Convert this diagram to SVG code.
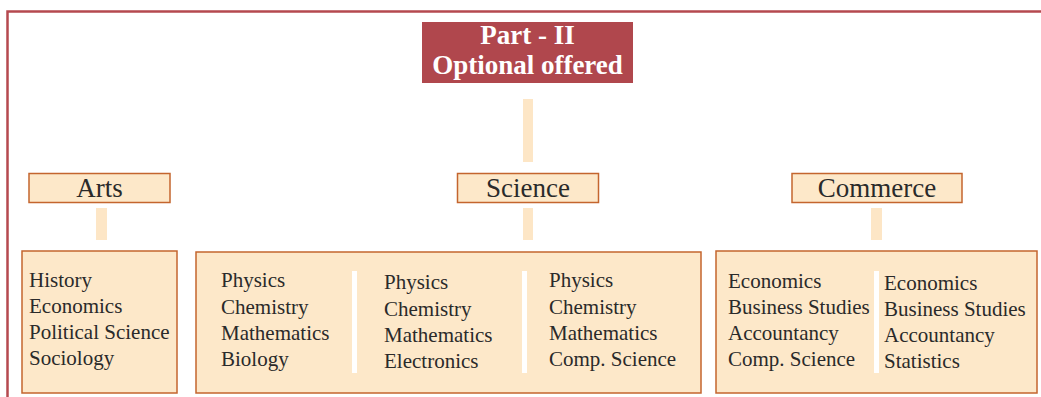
<svg xmlns="http://www.w3.org/2000/svg" width="1041" height="397" viewBox="0 0 1041 397">
<style>
.box{fill:#fde8c9;stroke:#c4652e;stroke-width:1.5}
.conn{fill:#fde6c6}
.sep{fill:#ffffff}
.hd{font-family:"Liberation Serif",serif;font-size:27px;fill:#2a2a2a;text-anchor:middle}
.li{font-family:"Liberation Serif",serif;font-size:21px;fill:#2a2a2a}
.tt{font-family:"Liberation Serif",serif;font-size:27px;font-weight:bold;fill:#ffffff;text-anchor:middle}
</style>
<rect width="1041" height="397" fill="#ffffff"/>
<path d="M7.5 400 V11.5 H1045" fill="none" stroke="#b5494f" stroke-width="2.5"/>
<g id="connectors">
<rect class="conn" x="523" y="99" width="10" height="63"/>
<rect class="conn" x="96" y="208" width="11" height="32"/>
<rect class="conn" x="523" y="208" width="10" height="32"/>
<rect class="conn" x="871" y="208" width="11" height="32"/>
</g>
<g id="title">
<rect x="422" y="22" width="211" height="61" fill="#b0474d"/>
<text class="tt" x="527.5" y="44">Part - II</text>
<text class="tt" x="527.5" y="74">Optional offered</text>
</g>
<g id="arts">
<rect class="box" x="29" y="173.5" width="141" height="29"/>
<text class="hd" x="99.5" y="197">Arts</text>
</g>
<g id="science">
<rect class="box" x="457.5" y="173.5" width="141" height="29"/>
<text class="hd" x="528" y="197">Science</text>
</g>
<g id="commerce">
<rect class="box" x="792" y="173.5" width="170" height="29"/>
<text class="hd" x="877" y="197">Commerce</text>
</g>
<g id="arts-list">
<rect class="box" x="22" y="251" width="155" height="142"/>
<text class="li" x="29" y="287">History</text>
<text class="li" x="29" y="313">Economics</text>
<text class="li" x="29" y="339">Political Science</text>
<text class="li" x="29" y="365">Sociology</text>
</g>
<g id="science-list">
<rect class="box" x="196" y="252" width="505" height="141"/>
<rect class="sep" x="352" y="271" width="5" height="102"/>
<rect class="sep" x="522" y="271" width="5" height="102"/>
<text class="li" x="221" y="287">Physics</text>
<text class="li" x="221" y="314">Chemistry</text>
<text class="li" x="221" y="340">Mathematics</text>
<text class="li" x="221" y="366">Biology</text>
<text class="li" x="384" y="289">Physics</text>
<text class="li" x="384" y="316">Chemistry</text>
<text class="li" x="384" y="342">Mathematics</text>
<text class="li" x="384" y="368">Electronics</text>
<text class="li" x="549" y="287">Physics</text>
<text class="li" x="549" y="314">Chemistry</text>
<text class="li" x="549" y="340">Mathematics</text>
<text class="li" x="549" y="366">Comp. Science</text>
</g>
<g id="commerce-list">
<rect class="box" x="716" y="251" width="321" height="142"/>
<rect class="sep" x="874" y="271" width="5" height="102"/>
<text class="li" x="728" y="288">Economics</text>
<text class="li" x="728" y="314">Business Studies</text>
<text class="li" x="728" y="340">Accountancy</text>
<text class="li" x="728" y="366">Comp. Science</text>
<text class="li" x="884" y="290">Economics</text>
<text class="li" x="884" y="316">Business Studies</text>
<text class="li" x="884" y="342">Accountancy</text>
<text class="li" x="884" y="368">Statistics</text>
</g>
</svg>
